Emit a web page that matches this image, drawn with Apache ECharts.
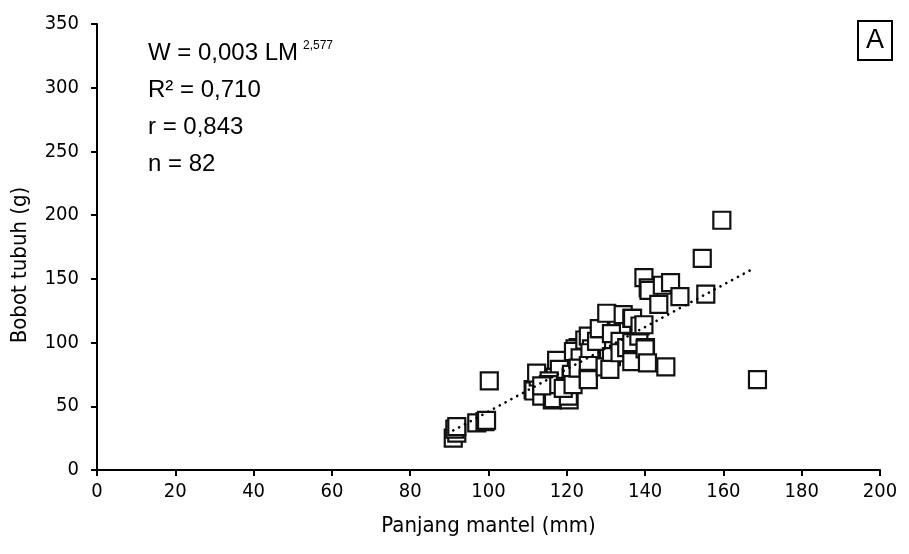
<!DOCTYPE html>
<html>
<head>
<meta charset="utf-8">
<script src="https://cdn.jsdelivr.net/npm/echarts@6/dist/echarts.min.js"></script>
<style>html,body{margin:0;padding:0;background:#fff;}#c{width:909px;height:554px;}</style>
</head>
<body>
<div id="c"></div>
<script>
var panjangMantel = [91.0,91.9,91.4,91.9,97.0,99.1,99.5,100.2,111.4,111.6,113.6,116.3,116.6,117.4,112.7,112.3,118.1,115.5,115.3,113.6,120.6,120.4,121.1,121.2,119.1,121.6,122.9,122.1,123.8,121.7,123.4,122.9,124.6,125.5,126.3,125.9,125.5,125.5,125.5,127.6,128.7,128.3,129.8,130.2,131.4,131.4,131.0,133.6,133.6,134.4,135.3,136.6,136.8,136.6,136.6,138.4,138.7,139.7,140.1,140.0,140.6,139.7,140.8,141.0,143.5,144.4,146.5,148.9,145.3,155.5,154.6,159.6,168.7];
var bobotTubuh = [25,29,32,34,37,38,39,70,63,62,58,55,56,86,73,76,79,70,67,66,55,58,73,75,64,67,96,95,93,93,88,80,102,105,95,92,82,72,71,101,111,111,81,123,107,89,79,101,92,122,96,119,119,100,85,105,113,114,96,95,84,151,143,141,130,145,147,136,81,138,166,196,71];
var trendX = [91, 167.6];
var trendY = [31, 158];
var xTicks = [0,20,40,60,80,100,120,140,160,180,200];
var yTicks = [0,50,100,150,200,250,300,350];
var annotLines = ["W = 0,003 LM", "R\u00b2 = 0,710", "r = 0,843", "n = 82"];
var annotExp = "2,577";
var panelLabel = "A";

var pts = panjangMantel.map(function(x,i){return [x, bobotTubuh[i]];});
var trend = trendX.map(function(x,i){return [x, trendY[i]];});
var narrow = "'DejaVu Sans Condensed', 'Liberation Sans Narrow', 'Liberation Sans', sans-serif";
var chart = echarts.init(document.getElementById('c'), null, {renderer:'canvas'});
var gfx = [];
annotLines.forEach(function(t,i){
  gfx.push({type:'text', left:148, top:41+i*37, style:{text:t, font:"24px 'Liberation Sans', Arial, sans-serif", fill:'#000'}});
});
gfx.push({type:'text', left:303, top:40, style:{text:annotExp, font:"12px 'Liberation Sans', Arial, sans-serif", fill:'#000'}});
gfx.push({type:'rect', shape:{x:858, y:21, width:34, height:39}, style:{fill:'#fff', stroke:'#000', lineWidth:2}});
gfx.push({type:'text', x:875, y:41, style:{text:panelLabel, font:"27px 'Liberation Sans', Arial, sans-serif", fill:'#000', align:'center', verticalAlign:'middle'}});

chart.setOption({
  animation:false,
  backgroundColor:'#fff',
  grid:{left:97, right:29, top:24, bottom:84},
  xAxis:{type:'value', min:0, max:200, interval:20, name:'Panjang mantel (mm)', nameLocation:'middle', nameGap:45,
    nameTextStyle:{fontFamily:narrow, fontSize:22, color:'#000'},
    axisLine:{onZero:false, lineStyle:{color:'#000', width:2}},
    axisTick:{show:true, length:6, lineStyle:{color:'#000', width:2}},
    axisLabel:{fontFamily:narrow, fontSize:20, color:'#000', margin:12, formatter:function(v){return xTicks.indexOf(v)>=0?String(v):'';}},
    splitLine:{show:false}},
  yAxis:{type:'value', min:0, max:350, interval:50, name:'Bobot tubuh (g)', nameLocation:'middle', nameGap:66,
    nameTextStyle:{fontFamily:narrow, fontSize:22, color:'#000', padding:[0,36,0,0]},
    axisLine:{show:true, onZero:false, lineStyle:{color:'#000', width:2}},
    axisTick:{show:true, length:6, lineStyle:{color:'#000', width:2}},
    axisLabel:{fontFamily:narrow, fontSize:20, color:'#000', margin:18, formatter:function(v){return yTicks.indexOf(v)>=0?String(v):'';}},
    splitLine:{show:false}},
  series:[
    {type:'scatter', data:pts, symbol:'rect', symbolSize:17, z:2,
      itemStyle:{color:'#fff', borderColor:'#111', borderWidth:2.2, opacity:1}},
    {type:'line', data:trend, symbol:'none', z:3,
      lineStyle:{color:'#000', width:2.6, type:[0.1,6.5], cap:'round'}}
  ],
  graphic:gfx
});
</script>
</body>
</html>
